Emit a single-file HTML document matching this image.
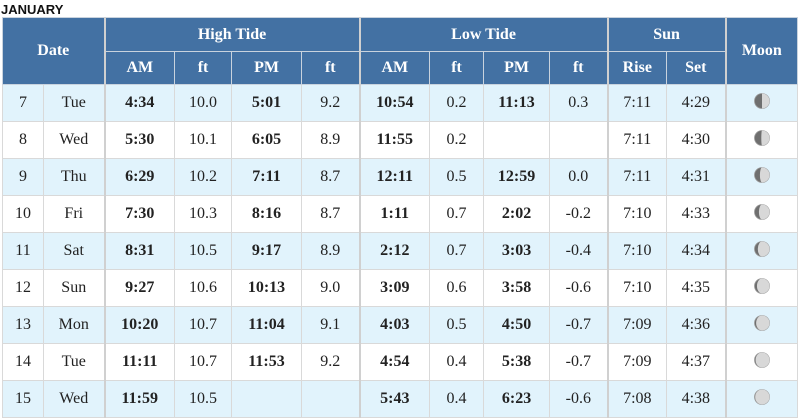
<!DOCTYPE html>
<html><head><meta charset="utf-8"><style>
body{margin:0;width:800px;height:417px;overflow:hidden;background:#fff;font-family:"Liberation Serif",serif;}
.title{position:absolute;left:1px;top:2px;font:bold 13px "Liberation Sans",sans-serif;color:#111;}
table{position:absolute;left:2px;top:17px;border-collapse:collapse;table-layout:fixed;width:795px;}
th{background:#4371a3;color:#fff;font-weight:bold;font-size:16px;border:1px solid #c9d3de;padding:0;text-align:center;}
td{border:1px solid #d9d9d9;font-size:16px;color:#222;text-align:center;padding:0;height:36px;}
tr.hr1 th{height:33px}
tr.hr2 th{height:32px}
tr.alt td{background:#e1f3fc}
td.b{font-weight:bold}
.g{border-left:2px solid #d0d0d0}
</style></head><body>
<div class="title">JANUARY</div>
<table>
<colgroup><col style="width:41px"><col style="width:61px"><col style="width:70px"><col style="width:57px"><col style="width:70px"><col style="width:58px"><col style="width:70px"><col style="width:54px"><col style="width:66px"><col style="width:58px"><col style="width:59px"><col style="width:59px"><col style="width:72px"></colgroup>
<tr class="hr1"><th colspan="2" rowspan="2">Date</th><th colspan="4" class="g">High Tide</th><th colspan="4" class="g">Low Tide</th><th colspan="2" class="g">Sun</th><th rowspan="2" class="g">Moon</th></tr>
<tr class="hr2"><th class="g">AM</th><th>ft</th><th>PM</th><th>ft</th><th class="g">AM</th><th>ft</th><th>PM</th><th>ft</th><th class="g">Rise</th><th>Set</th></tr>
<tbody id="body"></tbody>
</table>
<script>
const days=["7","8","9","10","11","12","13","14","15"];
const weekdays=["Tue","Wed","Thu","Fri","Sat","Sun","Mon","Tue","Wed"];
const highAm=["4:34","5:30","6:29","7:30","8:31","9:27","10:20","11:11","11:59"];
const highAmFt=["10.0","10.1","10.2","10.3","10.5","10.6","10.7","10.7","10.5"];
const highPm=["5:01","6:05","7:11","8:16","9:17","10:13","11:04","11:53",""];
const highPmFt=["9.2","8.9","8.7","8.7","8.9","9.0","9.1","9.2",""];
const lowAm=["10:54","11:55","12:11","1:11","2:12","3:09","4:03","4:54","5:43"];
const lowAmFt=["0.2","0.2","0.5","0.7","0.7","0.6","0.5","0.4","0.4"];
const lowPm=["11:13","","12:59","2:02","3:03","3:58","4:50","5:38","6:23"];
const lowPmFt=["0.3","","0.0","-0.2","-0.4","-0.6","-0.7","-0.7","-0.6"];
const rise=["7:11","7:11","7:11","7:10","7:10","7:10","7:09","7:09","7:08"];
const set=["4:29","4:30","4:31","4:33","4:34","4:35","4:36","4:37","4:38"];
const moonLit=[0.5,0.55,0.65,0.72,0.8,0.86,0.92,0.96,0.99];
const body=document.getElementById('body');
for(let i=0;i<days.length;i++){
  const tr=document.createElement('tr');
  if(i%2===0) tr.className='alt';
  
  
  const cells=[[days[i],'','day'],[weekdays[i],'','weekday'],[highAm[i],'b g','high-am'],[highAmFt[i],'','high-am-ft'],[highPm[i],'b','high-pm'],[highPmFt[i],'','high-pm-ft'],[lowAm[i],'b g','low-am'],[lowAmFt[i],'','low-am-ft'],[lowPm[i],'b','low-pm'],[lowPmFt[i],'','low-pm-ft'],[rise[i],'g','sunrise'],[set[i],'','sunset']];
  for(const c of cells){
    const td=document.createElement('td');
    td.textContent=c[0];td.className=c[1];
    
    
    tr.appendChild(td);
  }
  const td=document.createElement('td');td.className='g';
  
  
  const lit=moonLit[i];
  const rx=Math.abs(2*lit-1)*7;
  const sweep=lit>0.5?1:0;
  td.innerHTML='<svg width="18" height="18" viewBox="0 0 18 18"><circle cx="9" cy="9" r="7.5" fill="#6f6f6f" stroke="#999" stroke-width="0.8"/><path d="M9 1.5 A7.5 7.5 0 0 1 9 16.5 A'+rx+' 7.5 0 0 '+sweep+' 9 1.5Z" fill="#d8d8d8"/></svg>';
  const svg=td.querySelector('svg');
  
  
  tr.appendChild(td);
  body.appendChild(tr);
}
</script>
</body></html>
